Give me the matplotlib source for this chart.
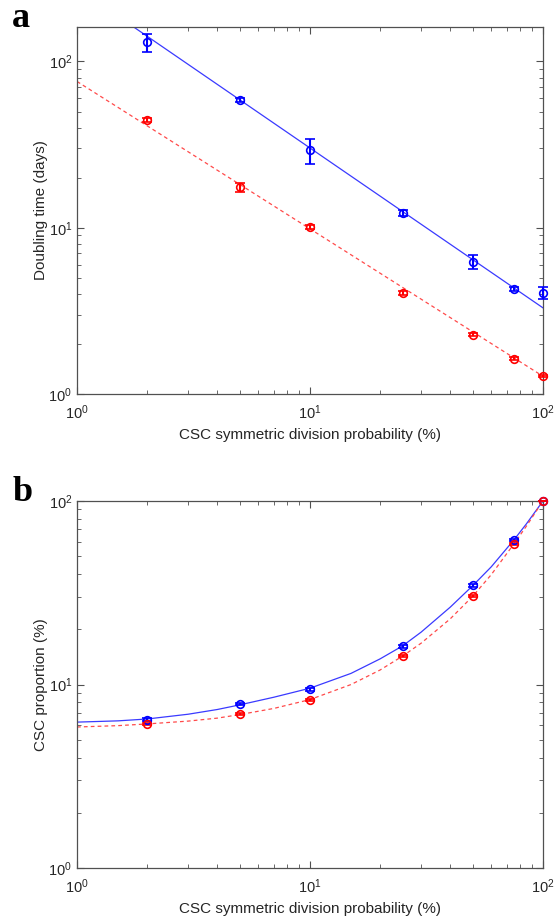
import matplotlib
matplotlib.use("Agg")
import matplotlib.pyplot as plt
from matplotlib.ticker import LogLocator, NullFormatter

plt.rcParams["font.family"] = ["Liberation Sans", "DejaVu Sans"]
plt.rcParams["mathtext.fontset"] = "custom"
plt.rcParams["mathtext.rm"] = "Liberation Sans"
plt.rcParams["mathtext.it"] = "Liberation Sans:italic"

# symmetric division probability (%)
prob = [2, 5, 10, 25, 50, 75, 100]

# panel a: doubling time (days)
dt_blue = [130, 58.7, 29.3, 12.3, 6.24, 4.29, 4.06]
dt_blue_err = [16.5, 2.0, 5.0, 0.5, 0.6, 0.12, 0.34]
dt_red = [44.5, 17.5, 10.1, 4.04, 2.27, 1.63, 1.28]
dt_red_err = [1.2, 1.0, 0.3, 0.1, 0.05, 0.03, 0.02]

fit_a_x = [1, 100]
fit_a_blue = [276, 3.30]
fit_a_red = [75.8, 1.28]

# panel b: CSC proportion (%)
csc_blue = [6.44, 7.88, 9.43, 16.2, 34.7, 61.5, 100]
csc_blue_err = [0.12, 0.1, 0.2, 0.3, 0.5, 1.0, 0]
csc_red = [6.10, 6.89, 8.28, 14.3, 30.5, 58.3, 100]
csc_red_err = [0.08, 0.08, 0.1, 0.2, 0.4, 0.8, 0]

fit_b_x = [1, 1.5, 2, 3, 4, 5, 7, 10, 15, 20, 25, 30, 40, 50, 60, 75, 85, 100]
fit_b_blue = [6.24, 6.34, 6.49, 6.89, 7.31, 7.75, 8.53, 9.55, 11.5, 13.8,
              16.25, 19.3, 26.4, 34.6, 43.8, 61.3, 75.2, 100]
fit_b_red = [5.87, 5.97, 6.10, 6.32, 6.56, 6.86, 7.41, 8.28, 10.0, 12.0,
             14.3, 16.8, 22.8, 30.3, 39.7, 58.3, 73.1, 100]

BLUE = "#0000ff"
RED = "#ff0000"

fig = plt.figure(figsize=(5.54, 9.17), dpi=100)
ax_a = fig.add_axes([0.139, 0.5703, 0.841, 0.4002])
ax_b = fig.add_axes([0.139, 0.0534, 0.841, 0.4002])


def style_axis(ax, ylim):
    ax.set_xscale("log")
    ax.set_yscale("log")
    ax.set_xlim(1, 100)
    ax.set_ylim(*ylim)
    for s in ax.spines.values():
        s.set_color("#505050")
        s.set_linewidth(0.9)
    ax.tick_params(which="both", direction="in", top=True, right=True,
                   colors="#505050", labelcolor="#262626", labelsize=10.5)
    ax.tick_params(which="major", length=5, width=0.8)
    ax.tick_params(which="minor", length=3, width=0.6)
    ax.tick_params(axis="x", which="major", pad=7)
    ax.xaxis.set_minor_locator(LogLocator(base=10, subs=range(2, 10)))
    ax.yaxis.set_minor_locator(LogLocator(base=10, subs=range(2, 10)))
    ax.xaxis.set_minor_formatter(NullFormatter())
    ax.yaxis.set_minor_formatter(NullFormatter())
    ax.set_xlabel("CSC symmetric division probability (%)", fontsize=11,
                  color="#262626", labelpad=4)


def draw_points(ax, y, yerr, color):
    ax.errorbar(prob, y, yerr=yerr, fmt="o", color=color, mfc="none",
                mec=color, ms=5.5, mew=1.2, elinewidth=1.5, capsize=3.5,
                capthick=1.5, clip_on=False, zorder=3)


# panel a
ax_a.plot(fit_a_x, fit_a_blue, color="#3a3aff", lw=0.9, zorder=2)
ax_a.plot(fit_a_x, fit_a_red, color="#ff4a4a", lw=0.9, ls=(0, (3, 2.5)),
          zorder=2)
draw_points(ax_a, dt_blue, dt_blue_err, BLUE)
draw_points(ax_a, dt_red, dt_red_err, RED)
style_axis(ax_a, (1, 161))
ax_a.set_ylabel("Doubling time (days)", fontsize=11, color="#262626",
                labelpad=0)

# panel b
ax_b.plot(fit_b_x, fit_b_blue, color="#3a3aff", lw=0.9, zorder=2)
ax_b.plot(fit_b_x, fit_b_red, color="#ff4a4a", lw=0.9, ls=(0, (3, 2.5)),
          zorder=2)
draw_points(ax_b, csc_blue, csc_blue_err, BLUE)
draw_points(ax_b, csc_red, csc_red_err, RED)
style_axis(ax_b, (1, 100))
ax_b.set_ylabel("CSC proportion (%)", fontsize=11, color="#262626",
                labelpad=0)

panel_font = dict(fontsize=26, fontweight="bold", family="Liberation Serif",
                  va="baseline", ha="left")
fig.text(0.022, 0.5703 + 0.4002, "a", **panel_font)
fig.text(0.022, 0.0534 + 0.4002, "b", **panel_font)

fig.savefig("out.png", dpi=100)
